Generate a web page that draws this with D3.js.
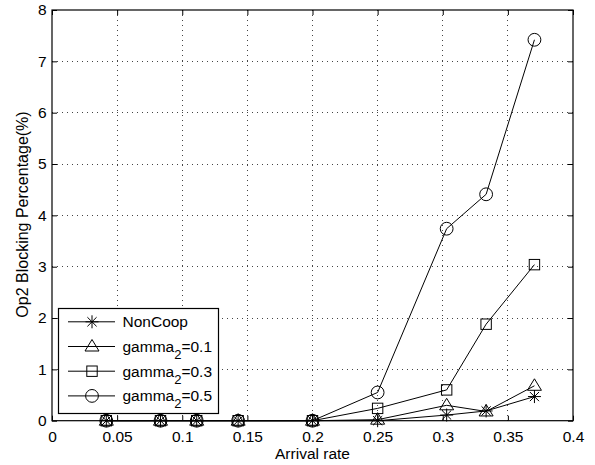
<!DOCTYPE html>
<html><head><meta charset="utf-8">
<script src="https://d3js.org/d3.v7.min.js"></script>
<style>body{margin:0;background:#fff}svg{display:block}text{font-family:"Liberation Sans",Arial,sans-serif}</style>
</head><body>
<script>
const xValues = [0.0417, 0.0833, 0.1111, 0.1429, 0.2, 0.25, 0.303, 0.3333, 0.3704];
const nonCoop = [0, 0, 0, 0, 0, 0.0, 0.11, 0.19, 0.47];
const gamma01 = [0, 0, 0, 0, 0, 0.02, 0.30, 0.18, 0.68];
const gamma03 = [0, 0, 0, 0, 0, 0.24, 0.60, 1.88, 3.04];
const gamma05 = [0, 0, 0, 0, 0, 0.55, 3.74, 4.41, 7.42];
const xTicks = [0, 0.05, 0.1, 0.15, 0.2, 0.25, 0.3, 0.35, 0.4];
const xTickLabels = ["0","0.05","0.1","0.15","0.2","0.25","0.3","0.35","0.4"];
const yTicks = [0,1,2,3,4,5,6,7,8];
const seriesNames = ["NonCoop","gamma|2|=0.1","gamma|2|=0.3","gamma|2|=0.5"];
const seriesMarkers = ["star","triangle","square","circle"];

const W=595,H=465;
const L=52,R=573,T=10,B=420.7;
const svg=d3.select("body").append("svg").attr("width",W).attr("height",H);
const x=d3.scaleLinear().domain([0,0.4]).range([L,R]);
const y=d3.scaleLinear().domain([0,8]).range([B,T]);

// grid
const g=svg.append("g");
xTicks.slice(1,-1).forEach(t=>g.append("line").attr("x1",x(t)).attr("x2",x(t)).attr("y1",B).attr("y2",T)
  .attr("stroke","#444").attr("stroke-width",1).attr("stroke-dasharray","1,4").attr("shape-rendering","crispEdges"));
yTicks.slice(1,-1).forEach(t=>g.append("line").attr("x1",L).attr("x2",R).attr("y1",y(t)).attr("y2",y(t))
  .attr("stroke","#444").attr("stroke-width",1).attr("stroke-dasharray","1,4").attr("shape-rendering","crispEdges"));

// axes
const fs=15.5;
const xb=svg.append("g").attr("transform",`translate(0,${B})`).call(d3.axisBottom(x).tickValues(xTicks).tickFormat((d,i)=>xTickLabels[i]).tickSizeInner(-5).tickSizeOuter(0).tickPadding(10));
const xt=svg.append("g").attr("transform",`translate(0,${T})`).call(d3.axisTop(x).tickValues(xTicks).tickFormat("").tickSizeInner(-5).tickSizeOuter(0));
const yl=svg.append("g").attr("transform",`translate(${L},0)`).call(d3.axisLeft(y).tickValues(yTicks).tickFormat(d3.format("d")).tickSizeInner(-5).tickSizeOuter(0).tickPadding(5.5));
const yr=svg.append("g").attr("transform",`translate(${R},0)`).call(d3.axisRight(y).tickValues(yTicks).tickFormat("").tickSizeInner(-5).tickSizeOuter(0));
[xb,xt,yl,yr].forEach(a=>{a.select(".domain").remove();a.selectAll("line").attr("stroke","#000");
  a.selectAll("text").attr("font-size",fs).attr("fill","#000").attr("font-family","Liberation Sans, Arial, sans-serif");});
xb.selectAll("text").attr("dy","0.71em");
svg.append("rect").attr("x",L).attr("y",T).attr("width",R-L).attr("height",B-T).attr("fill","none").attr("stroke","#000").attr("stroke-width",1.2);

// labels
svg.append("text").attr("x",(L+R)/2).attr("y",459).attr("text-anchor","middle").attr("font-size",fs).text("Arrival rate");
svg.append("text").attr("transform",`translate(28,214.5) rotate(-90)`).attr("text-anchor","middle").attr("font-size",16).text("Op2 Blocking Percentage(%)");

function marker(sel,type,cx,cy){
  const s=sel.append("g").attr("transform",`translate(${cx},${cy})`).attr("fill","none").attr("stroke","#000").attr("stroke-width",1);
  if(type==="circle") s.append("circle").attr("r",6.4);
  else if(type==="square") s.append("rect").attr("x",-5.2).attr("y",-5.2).attr("width",10.4).attr("height",10.4);
  else if(type==="triangle") s.append("path").attr("d","M0,-7L7,4.5L-7,4.5Z");
  else { const r=6.5,d=r*0.707; s.append("path").attr("d",`M0,${-r}V${r}M${-r},0H${r}M${-d},${-d}L${d},${d}M${-d},${d}L${d},${-d}`); }
}
const data=[nonCoop,gamma01,gamma03,gamma05];
const line=d3.line().x(d=>x(d[0])).y(d=>y(d[1]));
data.forEach((s,i)=>{
  const pts=xValues.map((xv,j)=>[xv,s[j]]);
  svg.append("path").attr("d",line(pts)).attr("fill","none").attr("stroke","#000").attr("stroke-width",1);
  pts.forEach(p=>marker(svg,seriesMarkers[i],x(p[0]),y(p[1])));
});

// legend
const lg=svg.append("g");
lg.append("rect").attr("x",58.5).attr("y",308.5).attr("width",160).attr("height",105).attr("fill","#fff").attr("stroke","#000").attr("stroke-width",1.2);
seriesNames.forEach((n,i)=>{
  const yy=321.8+i*24.7;
  lg.append("line").attr("x1",68).attr("x2",115).attr("y1",yy).attr("y2",yy).attr("stroke","#000");
  marker(lg,seriesMarkers[i],92,yy);
  const parts=n.split("|");
  const t=lg.append("text").attr("x",122.5).attr("y",yy+5.5).attr("font-size",fs);
  t.append("tspan").text(parts[0]);
  if(parts.length>1){
    t.append("tspan").attr("font-size",13).attr("dy",7).text(parts[1]);
    t.append("tspan").attr("dy",-7).text(parts[2]);
  }
});
</script>
</body></html>
